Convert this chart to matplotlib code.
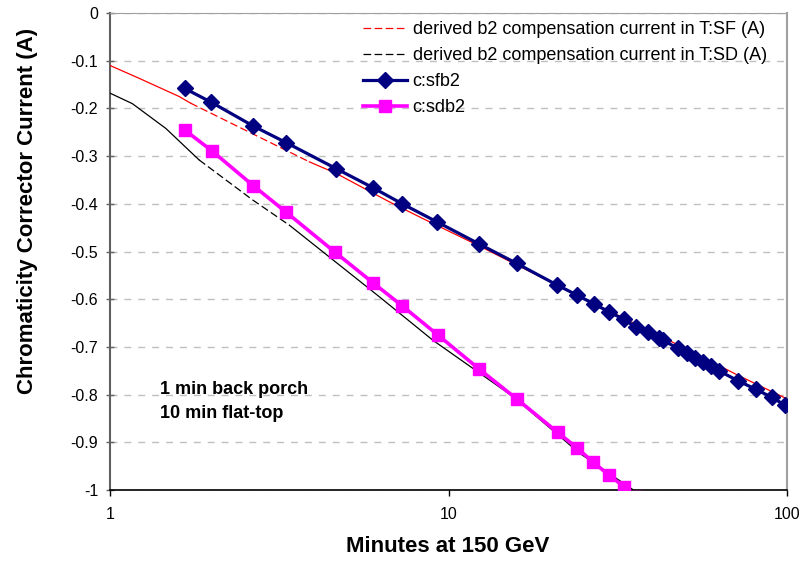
import matplotlib
matplotlib.use('Agg')
import matplotlib.pyplot as plt
from matplotlib.ticker import FixedLocator, FixedFormatter, NullLocator

plt.rcParams['font.family'] = ['Liberation Sans', 'DejaVu Sans']
plt.rcParams['axes.unicode_minus'] = False
plt.rcParams['lines.scale_dashes'] = False

# ---- data ----
sfb2_x = [1.66, 1.99, 2.65, 3.32, 4.65, 5.97, 7.30, 9.25, 12.3, 15.9, 20.9, 23.9, 26.9,
          29.7, 32.9, 35.7, 38.8, 41.8, 43.0, 47.6, 50.6, 53.4, 56.4, 59.6, 62.9, 71.6,
          81.0, 90.3, 98.6]
sfb2_y = [-0.158, -0.187, -0.237, -0.272, -0.326, -0.366, -0.400, -0.438, -0.484, -0.525,
          -0.570, -0.591, -0.610, -0.626, -0.642, -0.658, -0.669, -0.681, -0.686, -0.703,
          -0.713, -0.723, -0.731, -0.739, -0.750, -0.771, -0.789, -0.806, -0.822]

sdb2_x = [1.66, 2.0, 2.65, 3.32, 4.63, 5.97, 7.30, 9.30, 12.3, 15.9, 21.0, 23.9, 26.7,
          29.8, 33.0, 35.7]
sdb2_y = [-0.245, -0.289, -0.362, -0.418, -0.502, -0.565, -0.614, -0.675, -0.746, -0.809,
          -0.879, -0.911, -0.941, -0.969, -0.993, -1.015]

tsf_x = [1.0, 1.22, 1.6, 1.73, 3.88, 4.65, 6.69, 8.57, 12.3, 20.3, 50.3, 71.4, 100.0]
tsf_y = [-0.110, -0.137, -0.175, -0.189, -0.312, -0.336, -0.396, -0.434, -0.488, -0.566,
         -0.704, -0.759, -0.809]

tsd_x = [1.0, 1.164, 1.462, 1.833, 2.64, 3.39, 6.25, 8.99, 15.5, 24.4, 37.6]
tsd_y = [-0.168, -0.190, -0.242, -0.308, -0.392, -0.445, -0.595, -0.686, -0.804, -0.923,
         -1.014]

x_ticks = [1, 10, 100]
x_tick_labels = ['1', '10', '100']
y_ticks = [0, -0.1, -0.2, -0.3, -0.4, -0.5, -0.6, -0.7, -0.8, -0.9, -1]
y_tick_labels = ['0', '-0.1', '-0.2', '-0.3', '-0.4', '-0.5', '-0.6', '-0.7', '-0.8', '-0.9', '-1']

# indices where the derived lines appear dashed
tsf_dash = (3, 4)
tsd_dash = (3, 5)

W, H = 799, 561
fig = plt.figure(figsize=(W / 100, H / 100), dpi=100)
ax = fig.add_axes([110 / W, 1 - 490 / H, (787 - 110) / W, (490 - 13) / H])

dash = (0, (5.5, 2.5))


def draw_derived(xs, ys, d, color, lw, label):
    a, b = d
    ax.plot(xs[:a + 1], ys[:a + 1], color=color, lw=lw, zorder=3)
    ax.plot(xs[a:b + 1], ys[a:b + 1], color=color, lw=lw, linestyle=dash, zorder=3, label=label)
    ax.plot(xs[b:], ys[b:], color=color, lw=lw, zorder=3)


draw_derived(tsf_x, tsf_y, tsf_dash, '#ff0000', 0.9,
             'derived b2 compensation current in T:SF (A)')
draw_derived(tsd_x, tsd_y, tsd_dash, '#000000', 0.9,
             'derived b2 compensation current in T:SD (A)')

ax.plot(sfb2_x, sfb2_y, color='#000080', lw=2.3, marker='D', markersize=8,
        markeredgecolor='#000080', markerfacecolor='#000080', zorder=4, label='c:sfb2')
ax.plot(sdb2_x, sdb2_y, color='#ff00ff', lw=2.6, marker='s', markersize=8.5,
        markeredgecolor='#ff00ff', markerfacecolor='#ff00ff', zorder=4, label='c:sdb2')

ax.set_xscale('log')
ax.set_xlim(1, 100)
ax.set_ylim(-1, 0)
ax.xaxis.set_major_locator(FixedLocator(x_ticks))
ax.xaxis.set_major_formatter(FixedFormatter(x_tick_labels))
ax.xaxis.set_minor_locator(NullLocator())
ax.yaxis.set_major_locator(FixedLocator(y_ticks))
ax.yaxis.set_major_formatter(FixedFormatter(y_tick_labels))
ax.yaxis.set_minor_locator(NullLocator())

ax.tick_params(axis='x', direction='out', length=4, width=1, pad=8.5, labelsize=11.5,
               color='#000000')
ax.tick_params(axis='y', direction='inout', length=6, width=1, pad=5.5, labelsize=11.5,
               color='#606060')

ax.yaxis.grid(True, linestyle=(0, (5, 5)), color='#c0c0c0', linewidth=1)
ax.set_axisbelow(True)

ax.spines['left'].set_color('#606060')
ax.spines['left'].set_linewidth(1.5)
ax.spines['bottom'].set_color('#000000')
ax.spines['bottom'].set_linewidth(1.2)
ax.spines['top'].set_color('#a0a0a0')
ax.spines['right'].set_color('#a0a0a0')
ax.spines['right'].set_linewidth(1.5)

leg = fig.legend(loc='upper left', bbox_to_anchor=(363 / W, 1 - 21 / H), frameon=False,
                 fontsize=13, handlelength=2.45, handletextpad=0.3, labelspacing=0.5,
                 borderpad=0, borderaxespad=0, markerscale=1.0)

fig.text(160 / W, 1 - 390 / H, '1 min back porch', fontsize=13, fontweight='bold',
         ha='left', va='center')
fig.text(160 / W, 1 - 413 / H, '10 min flat-top', fontsize=13, fontweight='bold',
         ha='left', va='center')

fig.text(28 / W, 1 - 211 / H, 'Chromaticity Corrector Current (A)', fontsize=16,
         fontweight='bold', rotation=90, ha='center', va='center')
fig.text(448 / W, 1 - 546 / H, 'Minutes at 150 GeV', fontsize=16, fontweight='bold',
         ha='center', va='center')

fig.savefig('out.png', dpi=100)
